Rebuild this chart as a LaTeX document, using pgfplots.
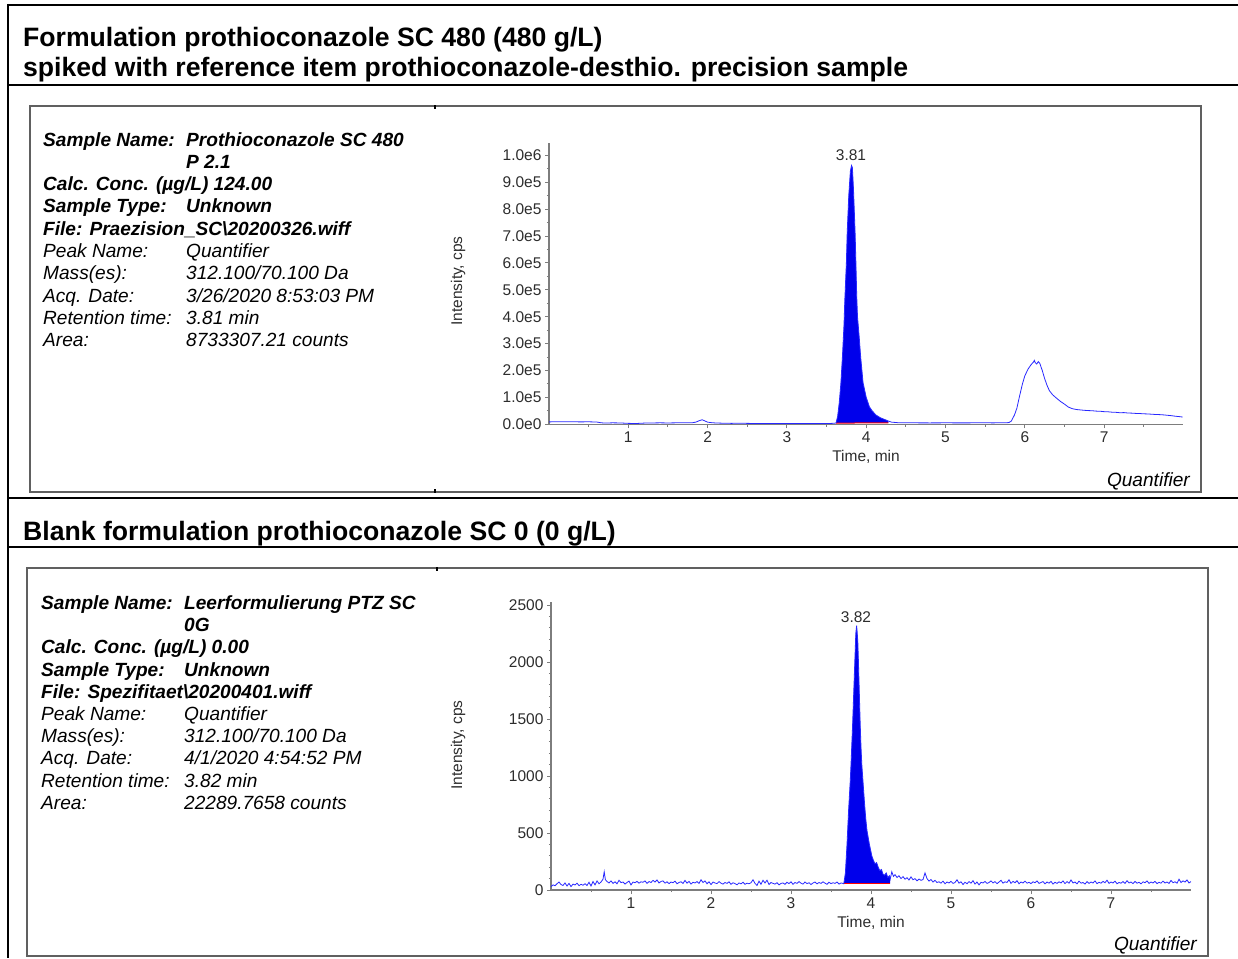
\documentclass[border=0pt]{standalone}
\usepackage{fontspec}
\setmainfont{Liberation Sans}
\usepackage{pgfplots}
\pgfplotsset{compat=1.18}
\definecolor{trace}{RGB}{40,40,255}
\definecolor{peakfill}{RGB}{0,0,235}
\definecolor{framegray}{RGB}{96,96,96}
\definecolor{axgray}{RGB}{125,125,125}
\definecolor{ticktext}{RGB}{45,45,45}
\newcommand\infofont{\fontsize{19.1}{22}\selectfont}
\newcommand\titlefont{\fontsize{26.6}{30}\selectfont\bfseries}
\newcommand\smallfont{\fontsize{15.5}{18}\selectfont}
\pgfplotsset{chrom/.style={
  scale only axis, anchor=south west,
  axis lines=left, axis line style={-, draw=axgray, line width=1.2pt},
  tick align=outside, major tick length=4pt, minor tick length=2.2pt,
  tick style={draw=axgray, line width=1pt},
  tick label style={font=\smallfont, text=ticktext},
  xmin=0, xmax=8, ymin=0, clip=false,
  xtick={1,2,3,4,5,6,7}, xticklabels={1,2,3,4,5,6,7},
  minor xtick={0.5,1.5,2.5,3.5,4.5,5.5,6.5,7.5},
  scaled x ticks=false, scaled y ticks=false,
}}
\begin{document}
\begin{tikzpicture}
\path[use as bounding box] (0pt,0pt) rectangle (1238pt,-958pt);
\begin{scope}[x=1pt,y=-1pt]
% outer table lines
\draw[black,line width=2pt] (8,5) -- (1238,5);
\draw[black,line width=2pt] (8,4) -- (8,958);
\draw[black,line width=2pt] (8,85) -- (1238,85);
\draw[black,line width=2pt] (8,498) -- (1238,498);
\draw[black,line width=2pt] (8,547) -- (1238,547);
% inner frames
\draw[framegray,line width=2pt] (30,106) rectangle (1200.5,492);
\draw[framegray,line width=2pt] (27,568) rectangle (1208,955.5);
\draw[black,line width=1.5pt] (435,105) -- (435,109);
\draw[black,line width=1.5pt] (435,489) -- (435,493);
\draw[black,line width=1.5pt] (437,567) -- (437,571);
% titles
\node[anchor=base west,inner sep=0] at (23,47) {\titlefont Formulation prothioconazole SC 480 (480 g/L)};
\node[anchor=base west,inner sep=0] at (23,77) {\titlefont spiked with reference item prothioconazole-desthio. precision sample};
\node[anchor=base west,inner sep=0] at (23,540) {\titlefont Blank formulation prothioconazole SC 0 (0 g/L)};
% info text top
\begin{scope}[every node/.style={anchor=base west,inner sep=0,font=\infofont}]
\node at (43,146) {\bfseries\itshape Sample Name:};
\node at (186,146) {\bfseries\itshape Prothioconazole SC 480};
\node at (186,168.3) {\bfseries\itshape P 2.1};
\node at (43,190.6) {\bfseries\itshape Calc. Conc. (µg/L) 124.00};
\node at (43,212.9) {\bfseries\itshape Sample Type:};
\node at (186,212.9) {\bfseries\itshape Unknown};
\node at (43,235.2) {\bfseries\itshape File: Praezision\_SC\textbackslash 20200326.wiff};
\node at (43,257.5) {\itshape Peak Name:};
\node at (186,257.5) {\itshape Quantifier};
\node at (43,279.8) {\itshape Mass(es):};
\node at (186,279.8) {\itshape 312.100/70.100 Da};
\node at (43,302.1) {\itshape Acq. Date:};
\node at (186,302.1) {\itshape 3/26/2020 8:53:03 PM};
\node at (43,324.4) {\itshape Retention time:};
\node at (186,324.4) {\itshape 3.81 min};
\node at (43,346.7) {\itshape Area:};
\node at (186,346.7) {\itshape 8733307.21 counts};
% info text bottom
\node at (41,609.5) {\bfseries\itshape Sample Name:};
\node at (184,609.5) {\bfseries\itshape Leerformulierung PTZ SC};
\node at (184,631.7) {\bfseries\itshape 0G};
\node at (41,653.9) {\bfseries\itshape Calc. Conc. (µg/L) 0.00};
\node at (41,676.1) {\bfseries\itshape Sample Type:};
\node at (184,676.1) {\bfseries\itshape Unknown};
\node at (41,698.3) {\bfseries\itshape File: Spezifitaet\textbackslash 20200401.wiff};
\node at (41,720.5) {\itshape Peak Name:};
\node at (184,720.5) {\itshape Quantifier};
\node at (41,742.7) {\itshape Mass(es):};
\node at (184,742.7) {\itshape 312.100/70.100 Da};
\node at (41,764.9) {\itshape Acq. Date:};
\node at (184,764.9) {\itshape 4/1/2020 4:54:52 PM};
\node at (41,787.1) {\itshape Retention time:};
\node at (184,787.1) {\itshape 3.82 min};
\node at (41,809.3) {\itshape Area:};
\node at (184,809.3) {\itshape 22289.7658 counts};
\end{scope}
% axis texts
\node[rotate=90,font=\smallfont,text=ticktext,inner sep=0] at (458,281) {Intensity, cps};
\node[rotate=90,font=\smallfont,text=ticktext,inner sep=0] at (458,745) {Intensity, cps};
\node[font=\smallfont,text=ticktext,inner sep=0] at (866,457) {Time, min};
\node[font=\smallfont,text=ticktext,inner sep=0] at (871,923) {Time, min};
\node[font=\smallfont,text=ticktext,inner sep=0] at (851,155) {3.81};
\node[font=\smallfont,text=ticktext,inner sep=0] at (856,617) {3.82};
\node[anchor=base east,font=\infofont\itshape,inner sep=0] at (1190,486) {Quantifier};
\node[anchor=base east,font=\infofont\itshape,inner sep=0] at (1197,950) {Quantifier};
\end{scope}

% ---------- top chromatogram ----------
\begin{axis}[chrom, at={(549pt,-424.3pt)}, width=634.4pt, height=281.1pt, ymax=1045000,
  ytick={0,100000,200000,300000,400000,500000,600000,700000,800000,900000,1000000},
  yticklabels={0.0e0,1.0e5,2.0e5,3.0e5,4.0e5,5.0e5,6.0e5,7.0e5,8.0e5,9.0e5,1.0e6},
  minor ytick={50000,150000,250000,350000,450000,550000,650000,750000,850000,950000}]
\addplot[draw=none, fill=peakfill] coordinates {
(3.62,5000) (3.64,30000) (3.66,80000) (3.68,150000) (3.70,250000) (3.72,370000) (3.73,460000)
(3.75,600000) (3.76,710000) (3.78,850000) (3.80,940000) (3.815,962000) (3.825,955000) (3.83,930000)
(3.84,870000) (3.85,790000) (3.86,710000) (3.87,600000) (3.88,480000) (3.89,400000) (3.91,330000)
(3.93,250000) (3.96,155000) (4.00,100000) (4.04,65000) (4.07,52000) (4.12,35000) (4.18,24000)
(4.24,17000) (4.28,12000) (4.28,5500) (3.62,4500)} -- cycle;
\addplot[red, line width=1pt] coordinates {(3.62,4500) (4.28,5500)};
\addplot[trace, line width=0.8pt] coordinates {
(0.00,9000) (0.10,9500) (0.20,9200) (0.30,9400) (0.40,9000) (0.50,9300) (0.60,8500) (0.65,6000)
(0.70,4500) (0.80,5500) (0.90,5000) (1.00,3500) (1.10,3000) (1.20,4500) (1.30,5000) (1.40,5500)
(1.50,5000) (1.60,5500) (1.70,6000) (1.80,5500) (1.85,8000) (1.90,14000) (1.93,17000) (1.97,12000)
(2.00,8000) (2.05,6000) (2.10,5000) (2.20,4000) (2.30,3500) (2.40,4000) (2.50,3500) (2.60,3000)
(2.70,3200) (2.80,3000) (2.90,3000) (3.00,2800) (3.10,3000) (3.20,3000) (3.30,2800) (3.40,3000)
(3.50,3000) (3.55,3200) (3.60,4000)
(3.62,5000) (3.64,30000) (3.66,80000) (3.68,150000) (3.70,250000) (3.72,370000) (3.73,460000)
(3.75,600000) (3.76,710000) (3.78,850000) (3.80,940000) (3.815,962000) (3.825,955000) (3.83,930000)
(3.84,870000) (3.85,790000) (3.86,710000) (3.87,600000) (3.88,480000) (3.89,400000) (3.91,330000)
(3.93,250000) (3.96,155000) (4.00,100000) (4.04,65000) (4.07,52000) (4.12,35000) (4.18,24000)
(4.24,17000) (4.28,12000)
(4.32,8000) (4.40,6000) (4.50,5500) (4.60,5500) (4.80,5200) (5.00,5500) (5.20,5300) (5.40,5500)
(5.60,5400) (5.75,5500) (5.80,6500) (5.83,12000) (5.87,35000) (5.90,60000) (5.93,100000) (5.97,150000)
(6.00,180000) (6.04,205000) (6.08,222000) (6.11,232000) (6.12,238000) (6.13,230000) (6.15,224000)
(6.17,233000) (6.19,226000) (6.22,200000) (6.25,170000) (6.28,145000) (6.31,125000) (6.35,110000)
(6.40,97000) (6.45,85000) (6.50,75000) (6.55,64000) (6.60,58000) (6.65,55000) (6.70,53500)
(6.75,52000) (6.80,51000) (6.85,50500) (6.90,49000) (6.95,48500) (7.00,47000) (7.05,46500)
(7.10,45000) (7.15,44500) (7.20,43000) (7.25,43500) (7.30,42000) (7.35,41500) (7.40,40500)
(7.45,40000) (7.50,39000) (7.55,38500) (7.60,37500) (7.65,36500) (7.70,36000) (7.75,35000)
(7.80,33500) (7.85,32000) (7.90,30000) (7.95,28500) (7.99,27000)};
\end{axis}

% ---------- bottom chromatogram ----------
\begin{axis}[chrom, at={(551pt,-890pt)}, width=640pt, height=288.4pt, ymax=2530,
  ytick={0,500,1000,1500,2000,2500},
  yticklabels={0,500,1000,1500,2000,2500},
  minor ytick={100,200,300,400,600,700,800,900,1100,1200,1300,1400,1600,1700,1800,1900,2100,2200,2300,2400}]
\addplot[draw=none, fill=peakfill] coordinates {
(3.660,55) (3.680,150) (3.700,400) (3.720,700) (3.740,950) (3.750,1100) (3.770,1450) (3.790,1850)
(3.800,2050) (3.810,2250) (3.820,2320) (3.825,2280) (3.835,2180) (3.845,1950) (3.855,1700) (3.865,1450)
(3.875,1250) (3.885,1100) (3.895,1000) (3.905,900) (3.920,750) (3.935,620) (3.950,520) (3.965,460)
(3.980,400) (3.995,350) (4.010,300) (4.030,260) (4.050,230) (4.070,240) (4.090,200) (4.110,170)
(4.130,180) (4.150,140) (4.170,130) (4.190,150) (4.210,110) (4.230,125) (4.240,95) (4.240,55)} -- cycle;
\addplot[red, line width=1pt] coordinates {(3.66,55) (4.24,55)};
\addplot[trace, line width=0.8pt] coordinates {
(0.000,30) (0.025,45) (0.050,38) (0.075,55) (0.100,70) (0.125,48) (0.150,40) (0.175,62) (0.200,35)
(0.225,58) (0.250,30) (0.275,52) (0.300,44) (0.325,60) (0.350,38) (0.375,50) (0.400,42) (0.425,55)
(0.450,40) (0.475,68) (0.500,35) (0.525,75) (0.550,45) (0.575,80) (0.600,55) (0.625,70) (0.650,95)
(0.665,160) (0.680,90) (0.700,75) (0.725,62) (0.750,80) (0.775,58) (0.800,72) (0.825,55) (0.850,85)
(0.875,65) (0.900,70) (0.925,52) (0.950,66) (0.975,78) (1.000,45) (1.025,70) (1.050,64) (1.075,76)
(1.100,60) (1.125,72) (1.150,68) (1.175,80) (1.200,58) (1.225,74) (1.250,66) (1.275,85) (1.300,70)
(1.325,88) (1.350,62) (1.375,75) (1.400,80) (1.425,60) (1.450,72) (1.475,56) (1.500,70) (1.525,64)
(1.550,78) (1.575,55) (1.600,66) (1.625,72) (1.650,58) (1.675,84) (1.700,60) (1.725,76) (1.750,52)
(1.775,68) (1.800,62) (1.825,74) (1.850,58) (1.875,90) (1.900,66) (1.925,80) (1.950,55) (1.975,72)
(2.000,48) (2.025,70) (2.050,62) (2.075,56) (2.100,74) (2.125,60) (2.150,52) (2.175,66) (2.200,58)
(2.225,72) (2.250,50) (2.275,64) (2.300,56) (2.325,46) (2.350,62) (2.375,54) (2.400,68) (2.425,50)
(2.450,60) (2.475,55) (2.500,64) (2.525,90) (2.550,58) (2.575,40) (2.600,78) (2.625,50) (2.650,85)
(2.675,62) (2.700,86) (2.725,48) (2.750,66) (2.775,58) (2.800,52) (2.825,64) (2.850,45) (2.875,58)
(2.900,62) (2.925,50) (2.950,68) (2.975,56) (3.000,72) (3.025,50) (3.050,66) (3.075,58) (3.100,74)
(3.125,60) (3.150,52) (3.175,70) (3.200,56) (3.225,64) (3.250,48) (3.275,62) (3.300,70) (3.325,54)
(3.350,66) (3.375,58) (3.400,72) (3.425,60) (3.450,50) (3.475,68) (3.500,56) (3.525,64) (3.550,58)
(3.575,70) (3.600,52) (3.625,62) (3.650,58)
(3.660,55) (3.680,150) (3.700,400) (3.720,700) (3.740,950) (3.750,1100) (3.770,1450) (3.790,1850)
(3.800,2050) (3.810,2250) (3.820,2320) (3.825,2280) (3.835,2180) (3.845,1950) (3.855,1700) (3.865,1450)
(3.875,1250) (3.885,1100) (3.895,1000) (3.905,900) (3.920,750) (3.935,620) (3.950,520) (3.965,460)
(3.980,400) (3.995,350) (4.010,300) (4.030,260) (4.050,230) (4.070,240) (4.090,200) (4.110,170)
(4.130,180) (4.150,140) (4.170,130) (4.190,150) (4.210,110) (4.230,125) (4.240,95)
(4.260,160) (4.280,120) (4.300,135) (4.325,110) (4.350,125) (4.375,100) (4.400,118) (4.425,95)
(4.450,108) (4.475,88) (4.500,115) (4.525,90) (4.550,100) (4.575,80) (4.600,96) (4.625,85) (4.650,92)
(4.675,150) (4.700,100) (4.725,78) (4.750,92) (4.775,70) (4.800,85) (4.825,66) (4.850,72) (4.875,60)
(4.900,78) (4.925,55) (4.950,70) (4.975,62) (5.000,76) (5.025,58) (5.050,66) (5.075,90) (5.100,60)
(5.125,72) (5.150,48) (5.175,68) (5.200,55) (5.225,74) (5.250,60) (5.275,82) (5.300,52) (5.325,70)
(5.350,45) (5.375,68) (5.400,62) (5.425,75) (5.450,58) (5.475,66) (5.500,80) (5.525,62) (5.550,74)
(5.575,56) (5.600,70) (5.625,85) (5.650,60) (5.675,72) (5.700,66) (5.725,90) (5.750,58) (5.775,76)
(5.800,64) (5.825,82) (5.850,55) (5.875,70) (5.900,62) (5.925,78) (5.950,60) (5.975,68) (6.000,56)
(6.025,72) (6.050,64) (6.075,80) (6.100,58) (6.125,66) (6.150,74) (6.175,54) (6.200,70) (6.225,60)
(6.250,76) (6.275,52) (6.300,68) (6.325,58) (6.350,72) (6.375,62) (6.400,80) (6.425,56) (6.450,74)
(6.475,60) (6.500,88) (6.525,62) (6.550,70) (6.575,54) (6.600,78) (6.625,60) (6.650,66) (6.675,52)
(6.700,74) (6.725,58) (6.750,70) (6.775,62) (6.800,80) (6.825,56) (6.850,68) (6.875,60) (6.900,76)
(6.925,64) (6.950,86) (6.975,58) (7.000,70) (7.025,62) (7.050,78) (7.075,55) (7.100,66) (7.125,60)
(7.150,74) (7.175,58) (7.200,82) (7.225,62) (7.250,70) (7.275,56) (7.300,76) (7.325,60) (7.350,68)
(7.375,54) (7.400,72) (7.425,64) (7.450,80) (7.475,58) (7.500,70) (7.525,62) (7.550,76) (7.575,56)
(7.600,68) (7.625,60) (7.650,78) (7.675,62) (7.700,70) (7.725,58) (7.750,84) (7.775,64) (7.800,72)
(7.825,60) (7.850,95) (7.875,66) (7.900,80) (7.925,70) (7.950,88) (7.975,62) (8.000,74)};
\end{axis}
\end{tikzpicture}
\end{document}
